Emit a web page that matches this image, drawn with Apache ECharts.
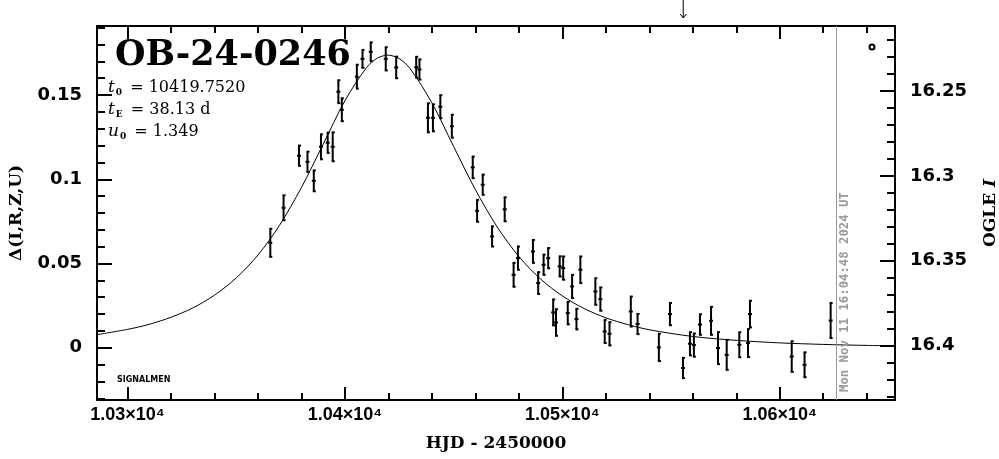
<!DOCTYPE html>
<html><head><meta charset="utf-8">
<script src="https://cdn.jsdelivr.net/npm/echarts@6/dist/echarts.min.js"></script>
<style>html,body{margin:0;padding:0;background:#fff}#c{width:999px;height:459px}</style>
</head><body><div id="c"></div>
<script>
// ---- data ----
const obsHJD = [10365.7,10371.8,10378.9,10382.8,10385.7,10389.0,10392.1,10394.4,10397.0,10398.6,
  10405.5,10408.1,10411.9,10418.8,10423.6,10432.8,10434.3,10438.2,10440.5,10443.9,
  10449.2,10458.8,10460.8,10463.4,10467.7,10473.5,10477.6,10479.6,10486.5,10488.9,
  10491.4,10493.5,10495.8,10497.1,10498.8,10500.4,10502.5,10504.5,10506.5,10508.3,
  10515.2,10517.5,10519.5,10521.7,10531.5,10534.6,10544.4,10549.5,10555.5,10558.7,
  10560.5,10563.3,10568.4,10571.6,10575.6,10581.4,10585.4,10586.3,10605.5,10611.4,10623.4];
const obsDelta = [0.0623,0.0831,0.1140,0.1104,0.0991,0.1193,0.1217,0.1193,0.1520,0.1413,
  0.1609,0.1715,0.1757,0.1715,0.1664,0.1665,0.1652,0.1365,0.1365,0.1431,
  0.1315,0.1071,0.0813,0.0968,0.0661,0.0822,0.0433,0.0532,0.0572,0.0384,
  0.0493,0.0532,0.0210,0.0150,0.0483,0.0473,0.0206,0.0364,0.0170,0.0463,
  0.0334,0.0289,0.0097,0.0083,0.0215,0.0141,0.0002,0.0200,-0.0120,0.0024,
  0.0016,0.0138,0.0160,-0.0002,-0.0042,0.0018,0.0028,0.0200,-0.0052,-0.0101,0.0162];
const obsErr = [0.0083,0.0074,0.0060,0.0060,0.0062,0.0074,0.0060,0.0086,0.0068,0.0068,
  0.0071,0.0053,0.0056,0.0069,0.0064,0.0062,0.0060,0.0086,0.0080,0.0068,
  0.0068,0.0064,0.0065,0.0060,0.0060,0.0071,0.0071,0.0069,0.0068,0.0065,
  0.0060,0.0060,0.0077,0.0079,0.0060,0.0069,0.0067,0.0069,0.0061,0.0079,
  0.0079,0.0069,0.0069,0.0069,0.0089,0.0060,0.0081,0.0066,0.0060,0.0069,
  0.0069,0.0061,0.0083,0.0095,0.0089,0.0074,0.0083,0.0079,0.0091,0.0074,0.0104];
const modelHJD = [10286,10300,10310,10320,10330,10340,10350,10360,10370,10380,10390,10400,10410,10415,
  10420,10425,10430,10440,10450,10460,10470,10480,10490,10500,10510,10520,10530,10540,10560,10580,
  10600,10620,10640,10653];
const modelDelta = [0.0078,0.0109,0.0139,0.0181,0.0236,0.0312,0.0414,0.0550,0.0728,0.0951,0.1208,0.1466,0.1664,0.1720,
  0.1737,0.1716,0.1657,0.1454,0.1195,0.0939,0.0718,0.0542,0.0408,0.0308,0.0233,0.0178,0.0138,0.0107,0.0067,0.0044,
  0.0029,0.0020,0.0014,0.0012];
const xMajorTicks = [10300,10400,10500,10600];
const xMinorTicks = [10300,10320,10340,10360,10380,10400,10420,10440,10460,10480,10500,10520,10540,10560,10580,10600,10620,10640];
const deltaMajorTicks = [0,0.05,0.1,0.15];
const deltaMinorTicks = [-0.03,-0.02,-0.01,0,0.01,0.02,0.03,0.04,0.05,0.06,0.07,0.08,0.09,0.1,0.11,0.12,0.13,0.14,0.15,0.16,0.17,0.18,0.19];
const magMajorTicks = [16.25,16.3,16.35,16.4];
const magMinorTicks = [16.22,16.23,16.24,16.25,16.26,16.27,16.28,16.29,16.3,16.31,16.32,16.33,16.34,16.35,16.36,16.37,16.38,16.39,16.4,16.41,16.42,16.43];
const nowHJD = [10626.2];
const arrowHJD = [10555.6];
const eventName = 'OB-24-0246';
const paramLines = [['t','0',' = 10419.7520'],['t','E',' = 38.13 d'],['u','0',' = 1.349']];
const nowLabel = 'Mon Nov 11 16:04:48 2024 UT';
const xRange = [10286, 10653], deltaRange = [-0.031, 0.191], magRange = [16.2117, 16.432];

// ---- chart ----
const chart = echarts.init(document.getElementById('c'), null, {renderer:'canvas'});
const black = '#000';
const labelFont = {color:black, fontFamily:'DejaVu Sans', fontWeight:'bold', fontSize:18};
function tickAxis(pos, range, ticks, len, extra) {
  return Object.assign({
    type:'value', position:pos, min:range[0], max:range[1],
    axisLine:{show:false, onZero:false}, splitLine:{show:false},
    axisTick:{show:true, inside:true, length:len, customValues:ticks, lineStyle:{color:black, width:2}},
    axisLabel:{show:false}
  }, extra||{});
}
const frameLine = {show:true, onZero:false, lineStyle:{color:black, width:2}};
const xFmt = v => (v/10000).toFixed(2) + '×10⁴';
const option = {
  animation:false,
  backgroundColor:'#fff',
  grid:{left:97, top:26, width:798, height:374, containLabel:false, outerBoundsMode:'none'},
  xAxis:[
    tickAxis('bottom', xRange, xMajorTicks, 13, {
      axisLine:frameLine,
      axisLabel:{show:true, customValues:xMajorTicks, formatter:xFmt, margin:6,
        color:black, fontFamily:'Liberation Sans', fontWeight:'bold', fontSize:18},
      name:'HJD - 2450000', nameLocation:'middle', nameGap:35,
      nameTextStyle:{color:black, fontFamily:'DejaVu Serif', fontWeight:'bold', fontSize:17}
    }),
    tickAxis('bottom', xRange, xMinorTicks, 7),
    tickAxis('top', xRange, xMajorTicks, 13, {axisLine:frameLine}),
    tickAxis('top', xRange, xMinorTicks, 7)
  ],
  yAxis:[
    tickAxis('left', deltaRange, deltaMajorTicks, 15, {
      axisLine:frameLine,
      axisLabel:Object.assign({show:true, customValues:deltaMajorTicks, margin:15}, labelFont),
      name:'Δ(I,R,Z,U)', nameLocation:'middle', nameRotate:90, nameGap:72,
      nameTextStyle:{color:black, fontFamily:'DejaVu Serif', fontWeight:'bold', fontSize:17}
    }),
    tickAxis('left', deltaRange, deltaMinorTicks, 8),
    tickAxis('right', magRange, magMajorTicks, 15, {
      inverse:true,
      axisLine:frameLine,
      axisLabel:Object.assign({show:true, customValues:magMajorTicks, margin:15}, labelFont),
      name:'{a|OGLE }{b|I}', nameLocation:'middle', nameRotate:90, nameGap:87,
      nameTextStyle:{color:black, fontFamily:'DejaVu Serif', fontWeight:'bold', fontSize:17,
        rich:{a:{fontFamily:'DejaVu Serif', fontWeight:'bold', fontSize:17, color:black},
              b:{fontFamily:'DejaVu Serif', fontStyle:'italic', fontWeight:'bold', fontSize:17, color:black}}}
    }),
    tickAxis('right', magRange, magMinorTicks, 8, {inverse:true})
  ],
  series:[
    {
      type:'line', xAxisIndex:0, yAxisIndex:0, smooth:0.3, showSymbol:false, symbol:'none',
      data: modelHJD.map((t,i)=>[t, modelDelta[i]]),
      lineStyle:{color:black, width:1}, z:3,
      markLine:{
        silent:true, symbol:['none','none'], animation:false,
        lineStyle:{color:'#999', width:1, type:'solid'},
        label:{show:true, position:'insideStartBottom', formatter:nowLabel, distance:[8,2],
          color:'#999', fontFamily:'DejaVu Sans Mono', fontWeight:'bold', fontSize:12.3},
        data: nowHJD.map(v=>({xAxis:v}))
      }
    },
    {
      type:'custom', xAxisIndex:0, yAxisIndex:0, z:4,
      data: obsHJD.map((t,i)=>[t, obsDelta[i], obsErr[i]]),
      renderItem:(params, api)=>{
        const x = api.value(0), y = api.value(1), e = api.value(2);
        const top = api.coord([x, y+e]), bot = api.coord([x, y-e]), c = api.coord([x, y]);
        const st = {stroke:black, lineWidth:2};
        return {type:'group', children:[
          {type:'line', shape:{x1:top[0], y1:top[1], x2:bot[0], y2:bot[1]}, style:st},
          {type:'line', shape:{x1:top[0]-1, y1:top[1], x2:top[0]+2, y2:top[1]}, style:st},
          {type:'line', shape:{x1:bot[0]-1, y1:bot[1], x2:bot[0]+2, y2:bot[1]}, style:st},
          {type:'line', shape:{x1:c[0]-2, y1:c[1], x2:c[0]+2, y2:c[1]}, style:st}
        ]};
      }
    },
    {
      type:'custom', xAxisIndex:0, yAxisIndex:0, z:4, clip:false,
      data: arrowHJD.map(v=>[v]),
      renderItem:(params, api)=>{
        const p = api.coord([api.value(0), deltaRange[1]]);
        const st = {stroke:black, lineWidth:1};
        return {type:'group', children:[
          {type:'line', shape:{x1:p[0], y1:p[1]-26, x2:p[0], y2:p[1]-8}, style:st},
          {type:'line', shape:{x1:p[0]-3, y1:p[1]-12, x2:p[0], y2:p[1]-8}, style:st},
          {type:'line', shape:{x1:p[0]+3, y1:p[1]-12, x2:p[0], y2:p[1]-8}, style:st}
        ]};
      }
    }
  ],
  graphic:[
    {type:'text', x:115, y:56, style:{text:eventName, fill:black, font:'bold 35px "DejaVu Serif"', verticalAlign:'middle'}},
    ...paramLines.map((p,i)=>({
      type:'text', x:108, y:88+i*22,
      style:{text:'{v|'+p[0]+'}{s|'+p[1]+'}{n|'+p[2]+'}', verticalAlign:'middle', fill:black,
        rich:{
          v:{fontFamily:'DejaVu Serif', fontStyle:'italic', fontSize:17, fill:black},
          s:{fontFamily:'DejaVu Serif', fontWeight:'bold', fontSize:9, fill:black, padding:[9,3,0,1]},
          n:{fontFamily:'DejaVu Serif', fontSize:16, fill:black}
        }}
    })),
    {type:'text', x:117, y:380, style:{text:'SIGNALMEN', fill:black, font:'bold 8px "DejaVu Sans"', verticalAlign:'middle'}},
    {type:'circle', shape:{cx:872, cy:47, r:2.5}, style:{fill:'none', stroke:black, lineWidth:2}}
  ]
};
chart.setOption(option);
</script>
</body></html>
